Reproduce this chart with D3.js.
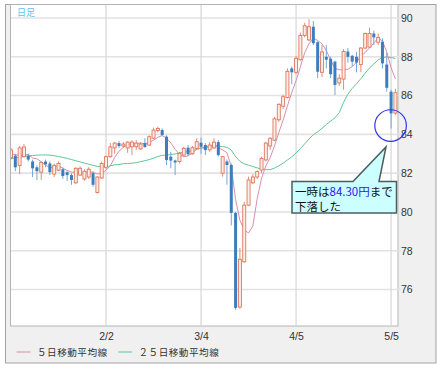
<!DOCTYPE html>
<html>
<head>
<meta charset="utf-8">
<script src="https://cdn.jsdelivr.net/npm/d3@7"></script>
<style>
    body { margin: 0; background: #fff; }
    svg text { font-family: "Liberation Sans", Arial, sans-serif; }
    .jp { font-family: "Noto Sans CJK JP", sans-serif !important; }
</style>
</head>
<body>
<svg id="chart" width="444" height="369"></svg>
<script>
// daily candles, 2011/1/3 - 2011/5/6 (weekdays)
var opens = [82.8, 82.9, 82.4, 82.85, 82.9, 82.6, 82.3, 82.05, 82.6, 82.5,
    81.95, 82.15, 82.2, 82.05, 81.9, 81.5, 81.9, 81.7, 81.8, 82.0,
    81.0, 81.75, 82.3, 82.85, 83.3, 83.55, 83.4, 83.3, 83.36, 83.36,
    83.25, 83.55, 83.45, 83.8, 84.2, 84.22, 83.88, 82.85, 82.65, 82.6,
    82.93, 83.31, 83.0, 83.28, 83.57, 83.45, 83.2, 83.3, 83.6, 82.0,
    82.6, 82.42, 79.95, 75.1, 77.43, 80.35, 81.5, 81.8, 82.16, 82.68,
    83.4, 83.7, 84.75, 85.45, 85.9, 87.4, 87.2, 87.85, 89.1, 88.87,
    89.55, 88.75, 87.2, 88.0, 87.9, 87.75, 86.65, 86.85, 88.27, 88.05,
    88.0, 87.6, 88.45, 88.5, 89.2, 88.75, 88.78, 87.6, 86.2, 85.1];
var highs = [83.3, 83.0, 83.4, 83.5, 83.0, 82.7, 82.4, 82.6, 82.7, 82.6,
    82.5, 82.6, 82.3, 82.1, 82.0, 82.3, 82.35, 82.2, 82.3, 82.1,
    81.85, 82.6, 82.9, 83.55, 83.6, 83.65, 83.6, 83.65, 83.7, 83.7,
    83.6, 83.8, 83.95, 84.35, 84.4, 84.31, 83.95, 83.1, 82.7, 83.1,
    83.35, 83.45, 83.4, 83.8, 83.83, 83.55, 83.6, 83.8, 83.71, 82.9,
    82.7, 82.5, 80.0, 78.14, 80.53, 81.82, 81.95, 82.15, 82.85, 83.62,
    83.85, 84.9, 85.6, 86.05, 87.4, 87.5, 88.05, 89.25, 89.75, 89.93,
    89.85, 88.8, 88.6, 88.6, 88.0, 87.8, 87.1, 88.4, 88.45, 88.1,
    88.25, 88.5, 89.25, 89.5, 89.35, 89.2, 88.95, 88.2, 86.3, 86.35];
var lows = [82.7, 82.1, 81.95, 82.8, 82.6, 81.8, 81.65, 81.65, 82.3, 81.9,
    81.8, 82.1, 81.7, 81.6, 81.4, 81.45, 81.85, 81.6, 81.7, 81.3,
    80.95, 81.7, 82.2, 82.8, 83.0, 83.3, 83.3, 83.05, 82.93, 83.2,
    83.2, 83.3, 83.4, 83.75, 84.1, 83.9, 82.42, 82.25, 81.9, 82.5,
    82.85, 82.9, 82.95, 83.2, 83.0, 82.93, 83.1, 83.25, 82.85, 81.82,
    81.4, 79.3, 74.95, 75.0, 77.38, 80.3, 81.45, 81.7, 82.0, 82.6,
    83.2, 83.65, 84.65, 85.3, 85.85, 86.6, 87.1, 87.8, 89.0, 88.8,
    88.6, 86.9, 86.95, 87.4, 86.9, 86.03, 86.5, 86.3, 87.7, 87.5,
    87.2, 87.2, 88.4, 88.45, 88.6, 88.6, 87.4, 86.2, 84.3, 85.0];
var closes = [83.2, 82.3, 83.3, 83.35, 82.7, 82.25, 82.1, 82.55, 82.45, 82.05,
    82.4, 82.5, 81.85, 81.9, 81.65, 82.25, 82.25, 82.1, 82.2, 81.4,
    81.8, 82.5, 82.85, 83.35, 83.55, 83.4, 83.5, 83.6, 83.6, 83.55,
    83.5, 83.35, 83.88, 84.22, 84.3, 83.97, 82.68, 82.65, 82.55, 83.02,
    83.28, 82.97, 83.31, 83.62, 83.36, 83.19, 83.45, 83.6, 82.93, 82.85,
    82.42, 79.95, 75.05, 77.56, 80.35, 81.65, 81.8, 82.08, 82.76, 83.55,
    83.8, 84.8, 85.55, 85.94, 87.25, 87.2, 87.92, 89.1, 89.6, 89.55,
    88.7, 87.23, 88.25, 87.85, 87.1, 86.55, 86.9, 88.27, 88.0, 87.75,
    87.7, 88.45, 89.2, 89.2, 89.0, 89.0, 87.66, 86.4, 85.08, 86.15];
// moving averages as drawn
var ma5 = [83.0, 82.95, 82.92, 82.93, 82.97, 82.78, 82.74, 82.59, 82.41, 82.28,
    82.31, 82.39, 82.25, 82.14, 82.06, 82.03, 81.98, 82.03, 82.09, 82.04,
    81.95, 82.0, 82.15, 82.38, 82.81, 83.13, 83.33, 83.48, 83.53, 83.53,
    83.55, 83.52, 83.58, 83.7, 83.85, 83.94, 83.81, 83.56, 83.23, 82.97,
    82.84, 82.89, 83.03, 83.24, 83.31, 83.29, 83.39, 83.44, 83.31, 83.2,
    83.05, 82.35, 80.64, 79.57, 79.07, 78.91, 79.28, 80.69, 81.73, 82.37,
    82.8, 83.4, 84.09, 84.73, 85.47, 86.15, 86.77, 87.48, 88.21, 88.67,
    88.97, 88.84, 88.67, 88.32, 87.83, 87.4, 87.33, 87.33, 87.36, 87.49,
    87.72, 88.03, 88.22, 88.46, 88.71, 88.97, 88.81, 88.25, 87.43, 86.86];
var ma25 = [82.75, 82.78, 82.82, 82.86, 82.89, 82.91, 82.93, 82.94, 82.94, 82.93,
    82.9, 82.86, 82.81, 82.76, 82.7, 82.64, 82.58, 82.52, 82.46, 82.4,
    82.35, 82.33, 82.34, 82.38, 82.43, 82.44, 82.49, 82.5, 82.51, 82.54,
    82.59, 82.64, 82.7, 82.77, 82.86, 82.92, 82.93, 82.96, 82.99, 83.04,
    83.08, 83.11, 83.16, 83.22, 83.29, 83.35, 83.39, 83.42, 83.4, 83.37,
    83.33, 83.19, 82.85, 82.61, 82.48, 82.41, 82.34, 82.27, 82.21, 82.18,
    82.18, 82.26, 82.38, 82.51, 82.68, 82.84, 83.04, 83.27, 83.51, 83.76,
    83.98, 84.13, 84.31, 84.51, 84.68, 84.85, 85.12, 85.65, 86.07, 86.37,
    86.61, 86.87, 87.16, 87.42, 87.63, 87.84, 87.96, 87.99, 87.96, 87.91];
var yTicks = [76, 78, 80, 82, 84, 86, 88, 90];
var xTickDates = ['2/2', '3/4', '4/5', '5/5'];
var legendNames = ['５日移動平均線', '２５日移動平均線'];

var dates = d3.utcDay.range(new Date(Date.UTC(2011, 0, 3)), new Date(Date.UTC(2011, 4, 7)))
    .filter(function(d) { return d.getUTCDay() % 6 !== 0; });
var fmt = d3.utcFormat('%-m/%-d');

var svg = d3.select('#chart');
var plot = { left: 11, top: 5, right: 398, bottom: 326 };

var x = d3.scaleLinear().domain([0, 89.6]).range([plot.left, plot.right]);
var y = d3.scaleLinear().domain([76, 90]).range([289.5, 18]);

// outer frame and plot background
svg.append('rect').attr('x', 5.5).attr('y', 4.5).attr('width', 430.5).attr('height', 358.5)
    .attr('fill', '#f0f0f0').attr('stroke', '#a4a4a4');
svg.append('rect').attr('x', plot.left - 0.5).attr('y', plot.top - 0.5)
    .attr('width', plot.right - plot.left + 0.5).attr('height', plot.bottom - plot.top + 0.5)
    .attr('fill', '#fff').attr('stroke', '#b4b4b4');

svg.append('clipPath').attr('id', 'clip').append('rect')
    .attr('x', plot.left).attr('y', plot.top)
    .attr('width', plot.right - plot.left).attr('height', plot.bottom - plot.top);

var tickIdx = xTickDates.map(function(t) {
    return dates.findIndex(function(d) { return fmt(d) === t; });
});

// grid
var grid = svg.append('g');
grid.selectAll('.hg').data(yTicks).enter().append('line')
    .attr('x1', plot.left).attr('x2', plot.right + 3)
    .attr('y1', function(d) { return y(d); }).attr('y2', function(d) { return y(d); })
    .attr('stroke', '#e2e2e2').attr('stroke-width', 1.6);
grid.selectAll('.vg').data(tickIdx).enter().append('line')
    .attr('x1', function(d) { return x(d); }).attr('x2', function(d) { return x(d); })
    .attr('y1', plot.top).attr('y2', plot.bottom)
    .attr('stroke', '#d6d6d6').attr('stroke-width', 1.2);

var g = svg.append('g').attr('clip-path', 'url(#clip)');

// moving average lines (drawn under the candles)
function maLine(values, color) {
    g.append('path')
        .datum(values)
        .attr('fill', 'none')
        .attr('stroke', color)
        .attr('stroke-width', 1)
        .attr('d', d3.line().x(function(d, i) { return x(i); }).y(function(d) { return y(d); }));
}
maLine(ma25, '#5cc994');
maLine(ma5, '#d58fae');

// candles
var candles = g.selectAll('.candle').data(d3.range(dates.length)).enter().append('g');
candles.append('line')
    .attr('x1', function(i) { return x(i); }).attr('x2', function(i) { return x(i); })
    .attr('y1', function(i) { return y(highs[i]); }).attr('y2', function(i) { return y(lows[i]); })
    .attr('stroke', function(i) { return closes[i] >= opens[i] ? '#e58a72' : '#73a6d8'; })
    .attr('stroke-width', 1);
candles.append('rect')
    .attr('x', function(i) { return x(i) - 1.5; })
    .attr('width', 3)
    .attr('y', function(i) { return y(Math.max(opens[i], closes[i])); })
    .attr('height', function(i) { return Math.max(1, Math.abs(y(opens[i]) - y(closes[i]))); })
    .attr('fill', function(i) { return closes[i] >= opens[i] ? '#fdeee8' : '#3c7dbd'; })
    .attr('stroke', function(i) { return closes[i] >= opens[i] ? '#e0775c' : 'none'; })
    .attr('stroke-width', 0.9);

// axes
var yAxis = svg.append('g').attr('transform', 'translate(' + plot.right + ',0)')
    .call(d3.axisRight(y).tickValues(yTicks).tickSize(0).tickPadding(3));
var xAxis = svg.append('g').attr('transform', 'translate(0,' + plot.bottom + ')')
    .call(d3.axisBottom(x).tickValues(tickIdx).tickSize(0).tickPadding(7)
        .tickFormat(function(i) { return fmt(dates[i]); }));
[yAxis, xAxis].forEach(function(a) {
    a.select('.domain').remove();
    a.selectAll('text').attr('fill', '#333').style('font-size', '10.5px');
});

svg.append('text').attr('class', 'jp').attr('x', 17).attr('y', 16)
    .attr('fill', '#5ac2f2').style('font-size', '9px').text('日足');

// legend
var legend = svg.append('g');
[[16.5, '#d58fae'], [118, '#5cc994']].forEach(function(l, k) {
    legend.append('line').attr('x1', l[0]).attr('x2', l[0] + 14)
        .attr('y1', 352).attr('y2', 352).attr('stroke', l[1]).attr('stroke-width', 1);
    legend.append('text').attr('class', 'jp').attr('x', l[0] + 20.5).attr('y', 355.5)
        .attr('fill', '#333').style('font-size', '9.6px').style('letter-spacing', '0.5px')
        .text(legendNames[k]);
});

// note: circle round the low and the callout
var lowIdx = lows.indexOf(d3.min(lows.slice(80)));
svg.append('circle').attr('cx', x(lowIdx) - 0.5).attr('cy', y(lows[lowIdx]) - 3).attr('r', 15.8)
    .attr('fill', 'none').attr('stroke', '#3333ee').attr('stroke-width', 1.2);
svg.append('path')
    .attr('d', 'M292,181.5 H353 L386,147 L379,181.5 H396.5 V213 H292 Z')
    .attr('fill', '#ccffff').attr('stroke', '#4d5d5d').attr('stroke-width', 1.5);
var note = svg.append('text').attr('class', 'jp').attr('x', 295).attr('y', 195.5)
    .style('font-size', '11.5px').attr('fill', '#111');
note.append('tspan').text('一時は');
note.append('tspan').attr('fill', '#1a1aff').text(d3.format('.2f')(lows[lowIdx]) + '円');
note.append('tspan').text('まで');
svg.append('text').attr('class', 'jp').attr('x', 295).attr('y', 211)
    .style('font-size', '11.5px').attr('fill', '#111').text('下落した');
</script>
</body>
</html>
